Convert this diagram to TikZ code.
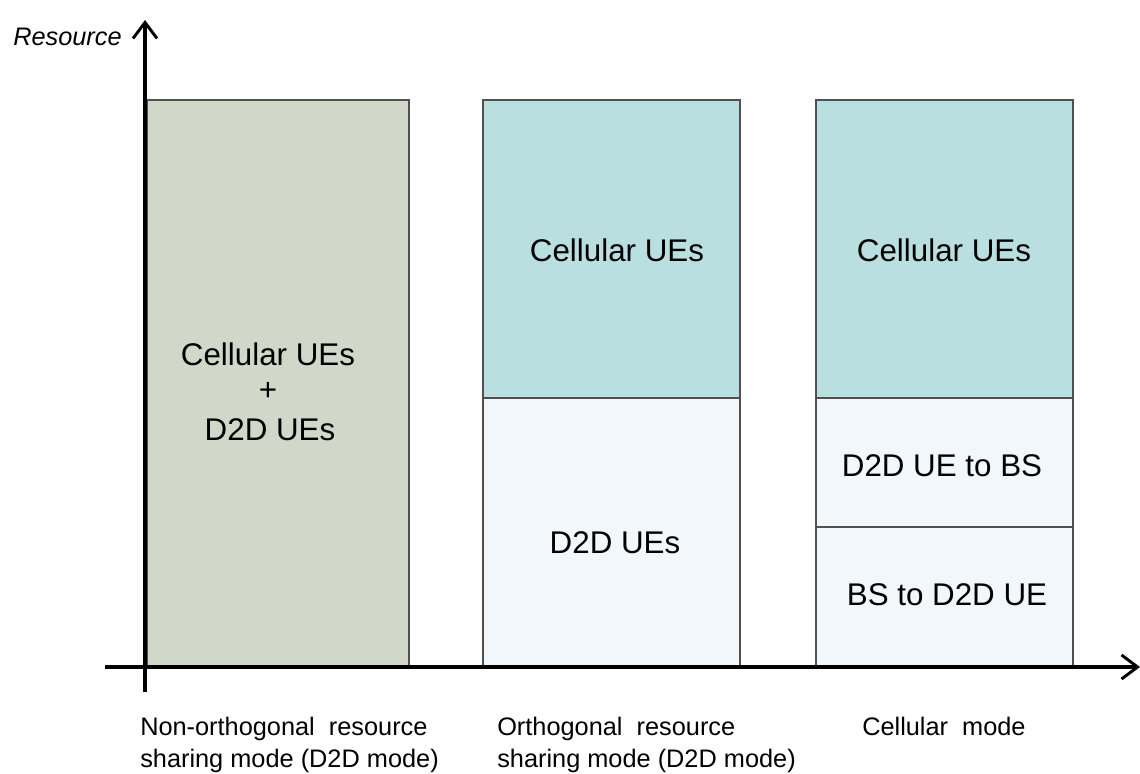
\documentclass[tikz,border=0pt]{standalone}
\usepackage{fontspec}
\setmainfont{Liberation Sans}
\usetikzlibrary{arrows.meta}
\definecolor{olivegray}{HTML}{D1D8C9}
\definecolor{tealfill}{HTML}{B9DFE1}
\definecolor{palefill}{HTML}{F1F7FA}
\definecolor{edgegray}{HTML}{505050}
\begin{document}
\begin{tikzpicture}[x=0.75pt,y=-0.75pt,
  cell/.style={draw=edgegray,line width=1.5pt},
  boxtext/.style={font=\fontsize{23.5}{28}\selectfont,text=black,inner sep=0pt},
  caption/.style={font=\fontsize{19}{24}\selectfont,align=left,anchor=north west,inner sep=0pt},
  axis/.style={line width=2.5pt,-{Straight Barb[length=12pt,width=18pt,line width=2.2pt]}}]
\useasboundingbox (0,0) rectangle (1140,774);
% boxes
\path[cell,fill=olivegray] (147,100) rectangle (409,667);
\path[cell,fill=tealfill] (483,100) rectangle (740,398);
\path[cell,fill=palefill] (483,398) rectangle (740,667);
\path[cell,fill=tealfill] (816,100) rectangle (1073,398);
\path[cell,fill=palefill] (816,398) rectangle (1073,527);
\path[cell,fill=palefill] (816,527) rectangle (1073,667);
% axes
\coordinate (yo) at (145,692);
\coordinate (ytip) at (145,20);
\coordinate (xo) at (105,667);
\coordinate (xtip) at (1140,667);
\draw[axis] (yo) -- (ytip);
\draw[axis] (xo) -- (xtip);
\node[font=\fontsize{19}{22}\selectfont\itshape,anchor=west,inner sep=0pt] (res) at (13,37) {Resource};
% texts
\node[boxtext] (a1) at (268,354) {Cellular UEs};
\node[boxtext] (a2) at (268,391) {+};
\node[boxtext] (a3) at (270,430) {D2D UEs};
\node[boxtext] (b1) at (617,250) {Cellular UEs};
\node[boxtext] (b2) at (615,543) {D2D UEs};
\node[boxtext] (c1) at (944,250) {Cellular UEs};
\node[boxtext] (c2) at (942,466) {D2D UE to BS};
\node[boxtext] (c3) at (947,595) {BS to D2D UE};
% captions
\node[caption] (l1) at (140,717) {Non-orthogonal\ \ resource\\sharing\ mode\ (D2D\ mode)};
\node[caption] (l2) at (497,717) {Orthogonal\ \ resource\\sharing\ mode\ (D2D\ mode)};
\node[caption] (l3) at (862,717) {Cellular\ \ mode};
\end{tikzpicture}
\end{document}
